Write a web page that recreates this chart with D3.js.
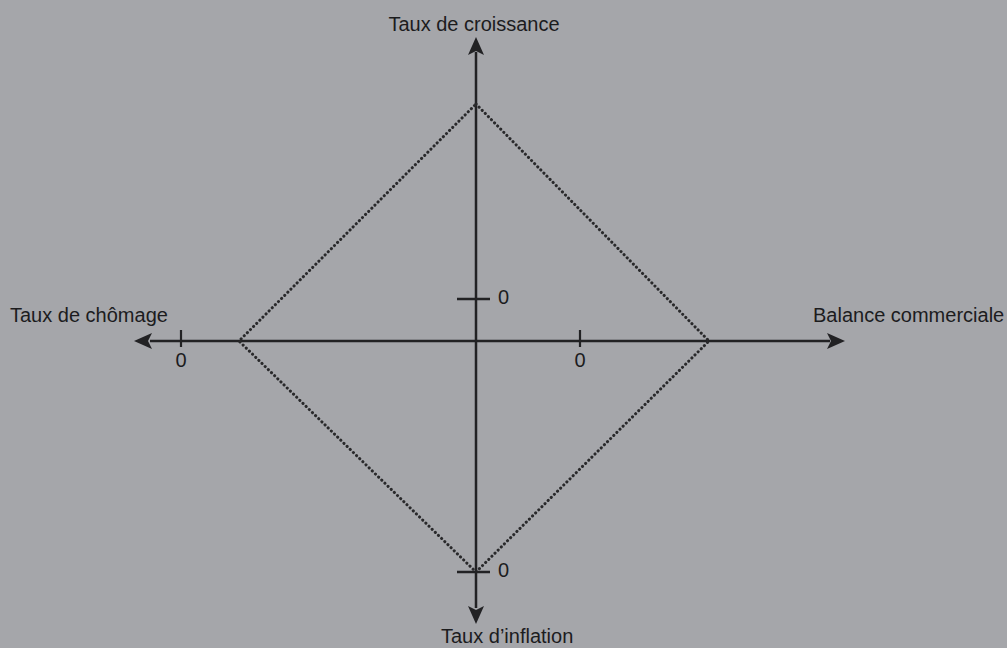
<!DOCTYPE html>
<html>
<head>
<meta charset="utf-8">
<script src="https://cdn.jsdelivr.net/npm/d3@7"></script>
<style>
  html, body { margin: 0; padding: 0; background: #a5a6aa; }
  svg { display: block; }
  text { font-family: "Liberation Sans", Arial, sans-serif; fill: #1c1c1e; }
</style>
</head>
<body>
<script>
// carré magique : 4 axes, valeur du sommet sur chaque axe
const axisNames = ["Taux de croissance", "Balance commerciale", "Taux d’inflation", "Taux de chômage"];
const vertexValues = [5, 3, 0, 2];
const tickValues = [0, 0, 0, 0];

const width = 1007, height = 648;
const cx = 476, cy = 341;

const svg = d3.select("body").append("svg")
    .attr("width", width)
    .attr("height", height);

// one scale per axis, 0 placed on the tick
const yGrowth = d3.scaleLinear().domain([0, 5]).range([299, 104]);
const xBalance = d3.scaleLinear().domain([0, 3]).range([580, 709]);
const yInflation = d3.scaleLinear().domain([0, 5]).range([572, 377]);
const xUnemp = d3.scaleLinear().domain([0, 2]).range([181, 239]);

const lineColor = "#222224";

// axes
svg.append("line")
    .attr("x1", 150).attr("x2", 830)
    .attr("y1", cy).attr("y2", cy)
    .attr("stroke", lineColor).attr("stroke-width", 2.5);
svg.append("line")
    .attr("x1", cx).attr("x2", cx)
    .attr("y1", 52).attr("y2", 608)
    .attr("stroke", lineColor).attr("stroke-width", 2.5);

// arrow heads
function arrow(tipX, tipY, angle) {
    const p = d3.path();
    p.moveTo(0, 0);
    p.lineTo(-18, -8);
    p.lineTo(-14, 0);
    p.lineTo(-18, 8);
    p.closePath();
    svg.append("path")
        .attr("d", p.toString())
        .attr("fill", lineColor)
        .attr("transform", "translate(" + tipX + "," + tipY + ") rotate(" + angle + ")");
}
arrow(845, cy, 0);
arrow(134, cy, 180);
arrow(cx, 37, -90);
arrow(cx, 624, 90);

// diamond (dotted)
const pts = [
    [cx, yGrowth(vertexValues[0])],
    [xBalance(vertexValues[1]), cy],
    [cx, yInflation(vertexValues[2])],
    [xUnemp(vertexValues[3]), cy]
];
svg.append("path")
    .attr("d", d3.line()(pts) + "Z")
    .attr("fill", "none")
    .attr("stroke", "#29292b")
    .attr("stroke-width", 3)
    .attr("stroke-linecap", "round")
    .attr("stroke-dasharray", "0.1,4.3");

// ticks
const fs = 20;
// horizontal axis ticks
[[xUnemp, tickValues[3]], [xBalance, tickValues[1]]].forEach(function(d) {
    const x = d[0](d[1]);
    svg.append("line")
        .attr("x1", x).attr("x2", x)
        .attr("y1", cy - 11).attr("y2", cy + 6)
        .attr("stroke", lineColor).attr("stroke-width", 2.2);
    svg.append("text")
        .attr("x", x).attr("y", cy + 26)
        .attr("text-anchor", "middle")
        .attr("font-size", fs)
        .text(d[1]);
});
// vertical axis ticks
[[yGrowth, tickValues[0]], [yInflation, tickValues[2]]].forEach(function(d) {
    const y = d[0](d[1]);
    svg.append("line")
        .attr("x1", cx - 19).attr("x2", cx + 14)
        .attr("y1", y).attr("y2", y)
        .attr("stroke", lineColor).attr("stroke-width", 2.5);
    svg.append("text")
        .attr("x", 498).attr("y", y + 5)
        .attr("font-size", fs)
        .text(d[1]);
});

// axis names
svg.append("text").attr("x", 474).attr("y", 31)
    .attr("text-anchor", "middle").attr("font-size", fs).text(axisNames[0]);
svg.append("text").attr("x", 813).attr("y", 322)
    .attr("font-size", fs).text(axisNames[1]);
svg.append("text").attr("x", 441).attr("y", 643)
    .attr("font-size", fs).text(axisNames[2]);
svg.append("text").attr("x", 10).attr("y", 322)
    .attr("font-size", fs).text(axisNames[3]);
</script>
</body>
</html>
